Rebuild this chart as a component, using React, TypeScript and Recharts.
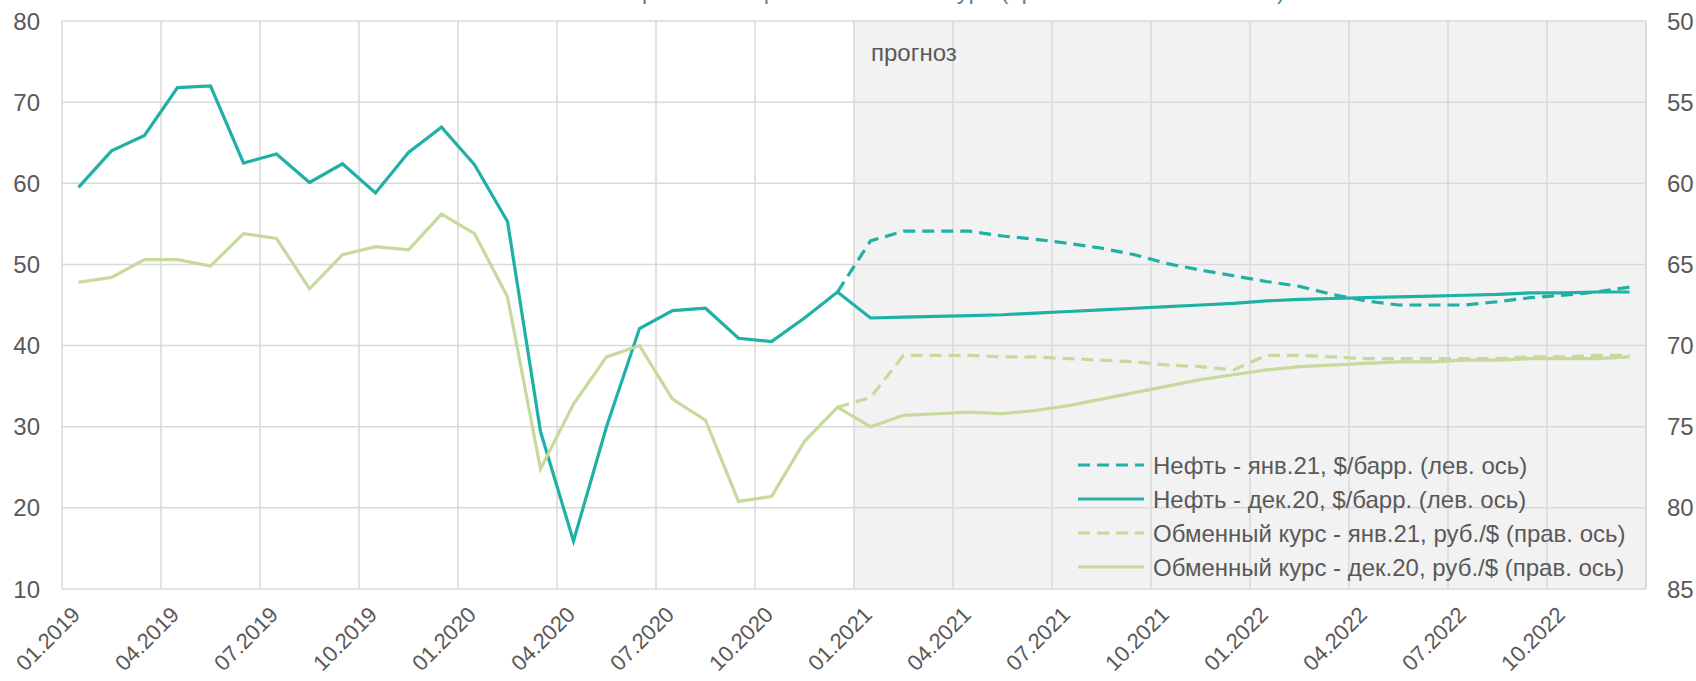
import React from 'react';
import {
  LineChart,
  Line,
  XAxis,
  YAxis,
  CartesianGrid
} from 'recharts';

// months 01.2019 .. 12.2022
const months = [
  '01.2019', '02.2019', '03.2019', '04.2019', '05.2019', '06.2019', '07.2019', '08.2019', '09.2019', '10.2019', '11.2019', '12.2019',
  '01.2020', '02.2020', '03.2020', '04.2020', '05.2020', '06.2020', '07.2020', '08.2020', '09.2020', '10.2020', '11.2020', '12.2020',
  '01.2021', '02.2021', '03.2021', '04.2021', '05.2021', '06.2021', '07.2021', '08.2021', '09.2021', '10.2021', '11.2021', '12.2021',
  '01.2022', '02.2022', '03.2022', '04.2022', '05.2022', '06.2022', '07.2022', '08.2022', '09.2022', '10.2022', '11.2022', '12.2022'
];

// нефть, $/барр. (левая ось)
const oilJan21 = [
  null, null, null, null, null, null, null, null, null, null, null, null,
  null, null, null, null, null, null, null, null, null, null, null, 46.6,
  52.9, 54.1, 54.1, 54.1, 53.5, 53.1, 52.6, 52.0, 51.2, 50.1, 49.3, 48.6,
  47.9, 47.3, 46.3, 45.5, 45.0, 45.0, 45.0, 45.4, 45.9, 46.2, 46.6, 47.2
];
const oilDec20 = [
  59.5, 64.0, 65.9, 71.8, 72.0, 62.5, 63.6, 60.1, 62.4, 58.8, 63.8, 66.9,
  62.3, 55.3, 29.4, 15.9, 30.0, 42.1, 44.3, 44.6, 40.9, 40.5, 43.4, 46.6,
  43.4, 43.5, 43.6, 43.7, 43.8, 44.0, 44.2, 44.4, 44.6, 44.8, 45.0, 45.2,
  45.5, 45.7, 45.8, 45.9, 46.0, 46.1, 46.2, 46.3, 46.5, 46.5, 46.6, 46.6
];

// обменный курс, руб./$ (правая ось)
const fxJan21 = [
  null, null, null, null, null, null, null, null, null, null, null, null,
  null, null, null, null, null, null, null, null, null, null, null, 73.8,
  73.2, 70.6, 70.6, 70.6, 70.7, 70.7, 70.8, 70.9, 71.0, 71.2, 71.3, 71.5,
  70.6, 70.6, 70.7, 70.8, 70.8, 70.8, 70.8, 70.8, 70.7, 70.7, 70.6, 70.6
];
const fxDec20 = [
  66.1, 65.8, 64.7, 64.7, 65.1, 63.1, 63.4, 66.5, 64.4, 63.9, 64.1, 61.9,
  63.1, 67.0, 77.6, 73.6, 70.7, 70.0, 73.3, 74.6, 79.6, 79.3, 75.9, 73.8,
  75.0, 74.3, 74.2, 74.1, 74.2, 74.0, 73.7, 73.3, 72.9, 72.5, 72.1, 71.8,
  71.5, 71.3, 71.2, 71.1, 71.0, 71.0, 70.9, 70.9, 70.8, 70.8, 70.8, 70.7
];

const leftTicks = [10, 20, 30, 40, 50, 60, 70, 80];
const rightTicks = [50, 55, 60, 65, 70, 75, 80, 85];
const forecastStart = 24; // 01.2021

const TEAL = '#1fb1a4';
const GREEN = '#c5da9c';
const TEXT = '#595959';
const GRID = '#d9d9d9';
const SHADE = '#f2f2f2';
const FONT = '"Liberation Sans", Arial, sans-serif';

const series = [
  { key: 'oilJan21', name: 'Нефть - янв.21, $/барр. (лев. ось)', color: TEAL, dash: '12 7', axis: 'left' },
  { key: 'oilDec20', name: 'Нефть - дек.20, $/барр. (лев. ось)', color: TEAL, dash: undefined, axis: 'left' },
  { key: 'fxJan21', name: 'Обменный курс - янв.21, руб./$ (прав. ось)', color: GREEN, dash: '12 7', axis: 'right' },
  { key: 'fxDec20', name: 'Обменный курс - дек.20, руб./$ (прав. ось)', color: GREEN, dash: undefined, axis: 'right' }
];

const data = months.map((m, i) => ({
  idx: i,
  month: m,
  oilJan21: oilJan21[i],
  oilDec20: oilDec20[i],
  fxJan21: fxJan21[i],
  fxDec20: fxDec20[i]
}));

// gridlines sit between categories, labels every 3rd month
const boundaryTicks = Array.from({ length: 17 }, (_, k) => k * 3 - 0.5);
const labelTicks = Array.from({ length: 16 }, (_, k) => k * 3);
// grid stripes: shaded from the forecast start on
const stripeFills = boundaryTicks.map((t) => (t >= forecastStart - 0.5 ? SHADE : '#ffffff'));

// boundary axis only feeds the grid; with tick={false} recharts drops ticks, so draw empty ones
const EmptyTick = () => <g />;

const MonthTick = (props: any) => {
  const { x, y, payload } = props;
  return (
    <text
      transform={`translate(${x + 3},${y + 27}) rotate(-45)`}
      textAnchor="end"
      fill={TEXT}
      fontSize={22}
      fontFamily={FONT}
    >
      {months[payload.value]}
    </text>
  );
};

const LeftTick = (props: any) => {
  const { x, y, payload } = props;
  return (
    <text x={x - 22} y={y + 8.5} textAnchor="end" fill={TEXT} fontSize={24} fontFamily={FONT}>
      {payload.value}
    </text>
  );
};

const RightTick = (props: any) => {
  const { x, y, payload } = props;
  return (
    <text x={x + 21} y={y + 8.5} textAnchor="start" fill={TEXT} fontSize={24} fontFamily={FONT}>
      {payload.value}
    </text>
  );
};

// legend and "прогноз" note sit on top of the plot
const Overlay = () => (
  <svg width={1696} height={681} style={{ position: 'absolute', left: 0, top: 0, pointerEvents: 'none' }}>
    <text x={871} y={61} fill={TEXT} fontSize={24} fontFamily={FONT}>
      прогноз
    </text>
    {series.map((s, i) => {
      const cy = 465 + i * 34;
      return (
        <g key={s.key}>
          <line x1={1078} x2={1144} y1={cy} y2={cy} stroke={s.color} strokeWidth={3.2} strokeDasharray={s.dash} />
          <text x={1153} y={cy + 8.5} fill={TEXT} fontSize={24} fontFamily={FONT}>
            {s.name}
          </text>
        </g>
      );
    })}
  </svg>
);

const Title = () => (
  <svg width={1696} height={30} style={{ position: 'absolute', left: 0, top: 0, pointerEvents: 'none' }}>
    <text x={1285} y={-1} textAnchor="end" fill="#5b80a0" fontSize={24} fontFamily={FONT}>
      Цены на нефть и обменный курс (прогноз на 2021-2022 гг.)
    </text>
  </svg>
);

export default function App() {
  return (
    <div
      style={{
        position: 'absolute',
        left: 0,
        top: 0,
        width: 1696,
        height: 681,
        overflow: 'hidden',
        background: '#ffffff',
        fontFamily: FONT
      }}
    >
      <LineChart width={1696} height={681} data={data} margin={{ top: 21, right: 0, bottom: 0, left: 0 }}>
        <CartesianGrid
          xAxisId="g"
          yAxisId="left"
          stroke={GRID}
          strokeWidth={1.5}
          verticalFill={stripeFills}
          fillOpacity={1}
        />
        <XAxis
          xAxisId="g"
          dataKey="idx"
          type="number"
          domain={[-0.5, months.length - 0.5]}
          ticks={boundaryTicks.concat([months.length - 0.5])}
          interval={0}
          tick={<EmptyTick />}
          tickLine={false}
          axisLine={{ stroke: GRID, strokeWidth: 1.5 }}
          tickSize={0}
          tickMargin={0}
          height={0}
          allowDataOverflow
        />
        <XAxis
          xAxisId="lbl"
          dataKey="idx"
          type="number"
          domain={[-0.5, months.length - 0.5]}
          ticks={labelTicks}
          interval={0}
          tick={<MonthTick />}
          tickLine={false}
          axisLine={false}
          tickSize={0}
          tickMargin={0}
          height={92}
        />
        <YAxis
          yAxisId="left"
          domain={[10, 80]}
          ticks={leftTicks}
          interval={0}
          width={62}
          tick={<LeftTick />}
          tickLine={false}
          axisLine={false}
          tickSize={0}
          tickMargin={0}
        />
        <YAxis
          yAxisId="right"
          orientation="right"
          domain={[50, 85]}
          reversed
          ticks={rightTicks}
          interval={0}
          width={50}
          tick={<RightTick />}
          tickLine={false}
          axisLine={false}
          tickSize={0}
          tickMargin={0}
        />
        {series.map((s) => (
          <Line
            key={s.key}
            xAxisId="g"
            yAxisId={s.axis}
            dataKey={s.key}
            name={s.name}
            type="linear"
            stroke={s.color}
            strokeWidth={3.2}
            strokeDasharray={s.dash}
            dot={false}
            activeDot={false}
            connectNulls={false}
            isAnimationActive={false}
          />
        ))}
      </LineChart>
      <Overlay />
      <Title />
    </div>
  );
}
